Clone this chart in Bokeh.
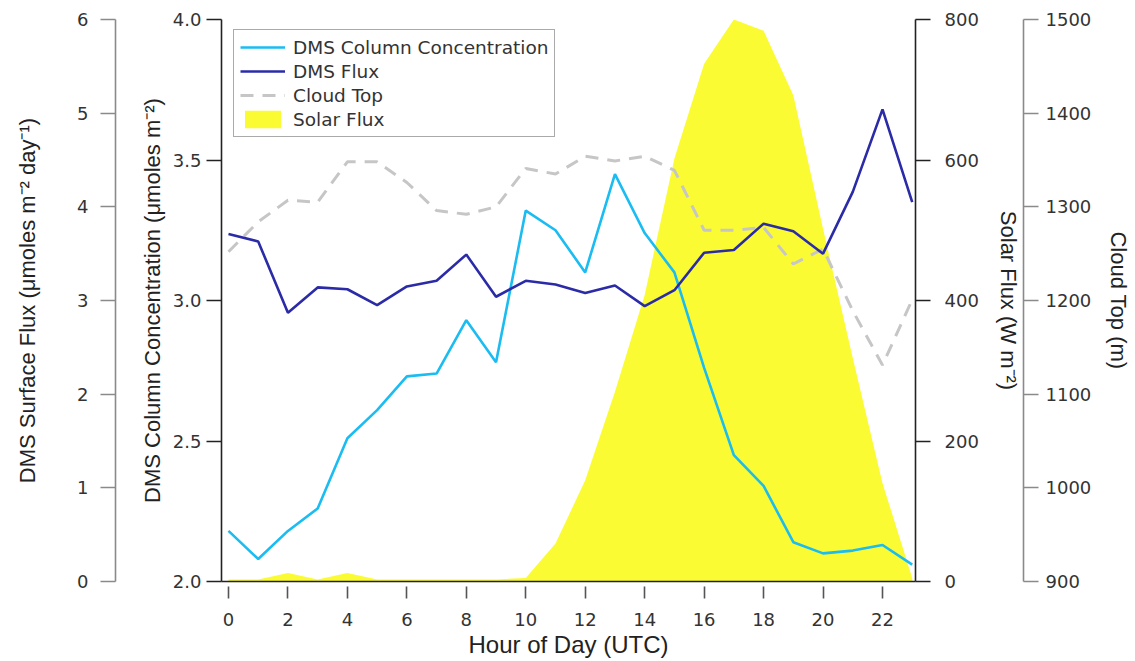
from bokeh.plotting import figure
from bokeh.models import (Range1d, LinearAxis, FixedTicker, NumeralTickFormatter,
                          Legend, LegendItem)
from bokeh.embed import file_html
from bokeh.resources import INLINE

# Hourly diel composite (UTC)
hours = list(range(24))
dms_column = [2.18, 2.08, 2.18, 2.26, 2.51, 2.61, 2.73, 2.74, 2.93, 2.78, 3.32, 3.25,
              3.10, 3.45, 3.24, 3.10, 2.76, 2.45, 2.34, 2.14, 2.10, 2.11, 2.13, 2.06]
dms_flux = [3.71, 3.63, 2.87, 3.14, 3.12, 2.95, 3.15, 3.21, 3.49, 3.04, 3.21, 3.17,
            3.08, 3.16, 2.94, 3.11, 3.51, 3.54, 3.82, 3.74, 3.50, 4.16, 5.04, 4.05]
cloud_top = [1252, 1284, 1307, 1305, 1348, 1348, 1326, 1296, 1292, 1300, 1341, 1335,
             1354, 1349, 1354, 1339, 1275, 1275, 1278, 1239, 1255, 1189, 1131, 1201]
solar_flux = [3, 3, 12, 3, 12, 3, 3, 3, 3, 3, 5, 54,
              144, 270, 408, 602, 737, 800, 784, 692, 502, 318, 140, 5]

x_ticks = list(range(0, 23, 2))
conc_ticks = [2.0, 2.5, 3.0, 3.5, 4.0]
flux_ticks = [0, 1, 2, 3, 4, 5, 6]
solar_ticks = [0, 200, 400, 600, 800]
cloud_ticks = [900, 1000, 1100, 1200, 1300, 1400, 1500]

TICK_FONT = "DejaVu Sans"
TITLE_FONT = "Liberation Sans"
TICK_SIZE = "18px"
TITLE_SIZE = "22px"

p = figure(width=1135, height=661,
           x_range=Range1d(-0.235, 23.11), y_range=Range1d(2.0, 4.0),
           output_backend="svg", toolbar_location=None,
           min_border_left=221, min_border_right=220,
           min_border_top=19, min_border_bottom=80)
p.outline_line_color = None
p.grid.visible = False
p.extra_y_ranges = {"flux": Range1d(0, 6), "solar": Range1d(0, 800),
                    "cloud": Range1d(900, 1500)}


def style_axis(ax, line_color, label_color="#333333"):
    ax.axis_line_color = line_color
    ax.axis_line_width = 1.6
    ax.major_tick_line_color = line_color
    ax.major_tick_line_width = 1.6
    ax.minor_tick_line_color = None
    ax.major_tick_in = 0
    ax.major_tick_out = 15
    ax.major_label_text_font = TICK_FONT
    ax.major_label_text_font_size = TICK_SIZE
    ax.major_label_text_color = label_color
    ax.axis_label_text_font = TITLE_FONT
    ax.axis_label_text_font_size = TITLE_SIZE
    ax.axis_label_text_font_style = "normal"
    ax.axis_label_text_color = "#222222"


def gap_axis(range_name, width):
    # invisible axis used only to open a gap between stacked axes
    return LinearAxis(y_range_name=range_name, ticker=FixedTicker(ticks=[0]),
                      axis_line_color=None, major_tick_line_color=None,
                      minor_tick_line_color=None, major_tick_out=width, major_tick_in=0,
                      major_label_text_font_size="1px", major_label_text_alpha=0,
                      major_label_standoff=0)


# x axis
xa = p.xaxis[0]
style_axis(xa, "#222222")
xa.ticker = FixedTicker(ticks=x_ticks)
xa.major_tick_line_color = "#555555"
xa.major_tick_in = -5
xa.major_tick_out = 17
xa.major_label_standoff = 14
xa.axis_label = "Hour of Day (UTC)"
xa.axis_label_text_font_size = "24px"
xa.axis_label_standoff = 2

# inner left: column concentration
ya = p.yaxis[0]
style_axis(ya, "#222222")
ya.ticker = FixedTicker(ticks=conc_ticks)
ya.formatter = NumeralTickFormatter(format="0.0")
ya.major_label_standoff = 5
ya.axis_label = "DMS Column Concentration (\u03bcmoles m\u207b\u00b2)"
ya.axis_label_standoff = 5

p.add_layout(gap_axis("flux", 21), "left")

# outer left: surface flux
fa = LinearAxis(y_range_name="flux")
style_axis(fa, "#8a8a8a")
fa.ticker = FixedTicker(ticks=flux_ticks)
fa.major_label_standoff = 12
fa.axis_label = "DMS Surface Flux (\u03bcmoles m\u207b\u00b2 day\u207b\u00b9)"
fa.axis_label_standoff = 34
p.add_layout(fa, "left")

# inner right: solar flux
sa = LinearAxis(y_range_name="solar")
style_axis(sa, "#222222")
sa.ticker = FixedTicker(ticks=solar_ticks)
sa.major_label_standoff = 14
sa.axis_label = "Solar Flux (W m\u207b\u00b2)"
sa.axis_label_standoff = 14
p.add_layout(sa, "right")

p.add_layout(gap_axis("cloud", 3), "right")

# outer right: cloud top
ca = LinearAxis(y_range_name="cloud")
style_axis(ca, "#8a8a8a")
ca.ticker = FixedTicker(ticks=cloud_ticks)
ca.major_label_standoff = 7
ca.axis_label = "Cloud Top (m)"
ca.axis_label_standoff = 12
p.add_layout(ca, "right")

# data
r_solar = p.varea(x=hours, y1=[0] * len(hours), y2=solar_flux, y_range_name="solar",
                  fill_color="#fbfb33", fill_alpha=1.0)
r_cloud = p.line(hours, cloud_top, y_range_name="cloud", line_color="#c6c6c6",
                 line_width=3, line_dash="13 9")
r_col = p.line(hours, dms_column, line_color="#1abcf2", line_width=2.6)
r_flux = p.line(hours, dms_flux, y_range_name="flux", line_color="#2b2ba8",
                line_width=2.6)

legend = Legend(items=[
    LegendItem(label="DMS Column Concentration", renderers=[r_col]),
    LegendItem(label="DMS Flux", renderers=[r_flux]),
    LegendItem(label="Cloud Top", renderers=[r_cloud]),
    LegendItem(label="Solar Flux", renderers=[r_solar]),
], location=(12, 444))
legend.label_text_font = TICK_FONT
legend.label_text_font_size = "18.5px"
legend.label_text_color = "#333333"
legend.glyph_width = 45
legend.glyph_height = 22
legend.label_height = 22
legend.label_standoff = 8
legend.spacing = 2
legend.padding = 6
legend.margin = 0
legend.border_line_color = "#555555"
legend.border_line_width = 1.5
legend.background_fill_alpha = 1.0
p.add_layout(legend, "center")

open("out.html", "w").write(file_html(p, INLINE))
